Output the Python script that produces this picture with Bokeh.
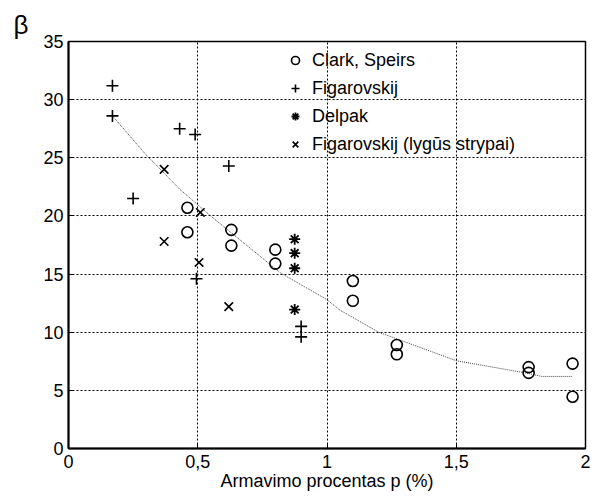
from bokeh.plotting import figure
from bokeh.models import Range1d, FixedTicker, Title
from bokeh.embed import file_html
from bokeh.resources import INLINE

# Data
clark_x = [0.46, 0.46, 0.63, 0.63, 0.80, 0.80, 1.10, 1.10, 1.27, 1.27, 1.78, 1.78, 1.95, 1.95]
clark_y = [20.7, 18.6, 18.8, 17.45, 17.1, 15.9, 14.4, 12.7, 8.9, 8.1, 7.0, 6.5, 7.3, 4.45]

figar_x = [0.17, 0.17, 0.43, 0.49, 0.62, 0.25, 0.495, 0.90, 0.90]
figar_y = [31.2, 28.6, 27.5, 27.0, 24.3, 21.5, 14.6, 10.5, 9.6]

delpak_x = [0.875, 0.875, 0.875, 0.875]
delpak_y = [18.0, 16.8, 15.5, 11.95]

smooth_x = [0.37, 0.37, 0.51, 0.505, 0.62]
smooth_y = [24.0, 17.8, 20.3, 16.0, 12.2]

trend_x = [0.17, 0.31, 0.33, 0.43, 0.55, 0.82, 1.0, 1.05, 1.2, 1.5, 1.78, 1.83, 1.95]
trend_y = [28.6, 25.0, 24.6, 22.3, 20.0, 15.1, 12.8, 11.9, 10.0, 7.55, 6.45, 6.2, 6.2]

x_ticks = [0, 0.5, 1, 1.5, 2]
x_tick_labels = {0: "0", 0.5: "0,5", 1: "1", 1.5: "1,5", 2: "2"}
y_ticks = [0, 5, 10, 15, 20, 25, 30, 35]

FONT = "Liberation Sans"
FS = "18px"

p = figure(width=599, height=496, output_backend="svg", toolbar_location=None,
           x_range=Range1d(0, 2), y_range=Range1d(0, 35),
           frame_width=517, frame_height=407,
           min_border_left=68, min_border_right=14, min_border_top=41, min_border_bottom=48)
p.background_fill_color = "white"
p.border_fill_color = "white"
p.outline_line_color = "black"
p.outline_line_width = 1.5

# beta as title above the y axis
p.title = Title(text="β", align="left", offset=-55, standoff=4,
                text_font=FONT, text_font_size="26px", text_font_style="normal",
                text_color="black")

# grid
p.xgrid.ticker = FixedTicker(ticks=[0.5, 1, 1.5])
p.ygrid.ticker = FixedTicker(ticks=[5, 10, 15, 20, 25, 30])
for g in (p.xgrid, p.ygrid):
    g.grid_line_color = "black"
    g.grid_line_dash = "2 2"
    g.grid_line_width = 1
    g.grid_line_alpha = 1.0

# axes
p.xaxis.ticker = FixedTicker(ticks=x_ticks)
p.xaxis.major_label_overrides = x_tick_labels
p.yaxis.ticker = FixedTicker(ticks=y_ticks)
for ax in (p.xaxis, p.yaxis):
    ax.axis_line_color = "black"
    ax.axis_line_width = 2
    ax.major_tick_in = 5
    ax.major_tick_out = 0
    ax.minor_tick_line_color = None
    ax.major_tick_line_color = "black"
    ax.major_label_text_font = FONT
    ax.major_label_text_font_size = FS
    ax.major_label_text_color = "black"
p.xaxis.major_label_standoff = 6
p.yaxis.major_label_standoff = 5
p.xaxis.axis_label = "Armavimo procentas p (%)"
p.xaxis.axis_label_text_font = FONT
p.xaxis.axis_label_text_font_size = FS
p.xaxis.axis_label_text_font_style = "normal"
p.xaxis.axis_label_text_color = "black"
p.xaxis.axis_label_standoff = 0

# trend line
p.line(trend_x, trend_y, line_color="#444444", line_width=1, line_dash="1 1")

# data
p.scatter(clark_x, clark_y, marker="circle", size=11, fill_color=None,
          line_color="black", line_width=1.6, legend_label="Clark, Speirs")
p.scatter(figar_x, figar_y, marker="cross", size=12, line_color="black",
          line_width=1.6, legend_label="Figarovskij")
p.scatter(delpak_x, delpak_y, marker="asterisk", size=11, line_color="black",
          line_width=1.8, legend_label="Delpak")
p.scatter(smooth_x, smooth_y, marker="x", size=12, line_color="black",
          line_width=1.6, legend_label="Figarovskij (lygūs strypai)")

lg = p.legend[0]
lg.location = (217, 290)
lg.background_fill_alpha = 0
lg.border_line_color = None
lg.padding = 0
lg.margin = 0
lg.spacing = 0
lg.label_height = 28
lg.glyph_height = 28
lg.glyph_width = 20
lg.label_standoff = 7
lg.label_text_font = FONT
lg.label_text_font_size = FS
lg.label_text_color = "black"

open("out.html", "w").write(file_html(p, INLINE))
